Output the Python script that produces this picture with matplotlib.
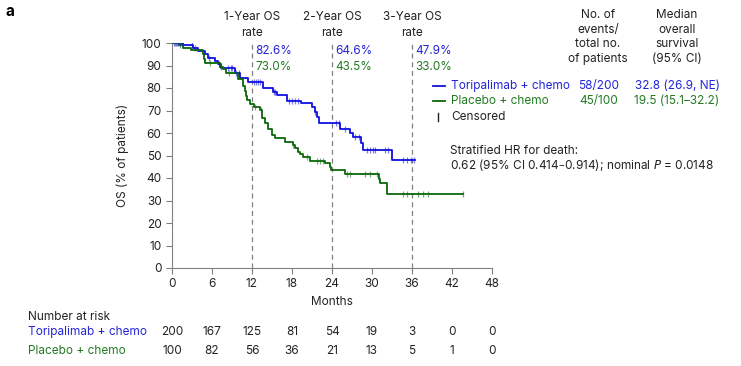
import numpy as np
import matplotlib
matplotlib.use("Agg")
import matplotlib.pyplot as plt
from matplotlib.transforms import blended_transform_factory

plt.rcParams["font.family"] = ["Inter", "DejaVu Sans"]

# KM step points (time in months, OS %)
tori_t = [0, 1.7, 3.2, 3.9, 5.0, 5.4, 6.4, 6.9, 7.4, 9.4, 10.2, 11.4, 13.6, 15.2, 15.7,
          17.3, 19.4, 21.0, 21.4, 21.7, 22.1, 25.2, 26.7, 27.2, 28.4, 28.6, 33.0]
tori_s = [100, 99, 97.6, 96.4, 95, 93.5, 92, 90.5, 89, 86.8, 84.6, 82.6, 80.2, 78.4, 76.9,
          74.2, 73.2, 71.7, 69.5, 67.2, 64.6, 62.0, 59.9, 58.4, 55.4, 52.4, 47.9]
tori_end = 36.4
tori_cens = [0.3, 0.6, 0.9, 1.2, 1.5, 3.0, 3.5, 5.6, 7.0, 8.4, 8.8, 9.0, 9.6, 10.0, 12.3,
             12.6, 12.9, 13.2, 15.3, 15.5, 17.6, 18.0, 18.4, 18.9, 21.5, 24.6, 25.0, 26.0,
             27.5, 28.0, 29.3, 29.7, 30.1, 30.5, 32.0, 32.4, 34.6, 35.2, 35.8, 36.3]

plac_t = [0, 1.0, 1.7, 2.9, 4.6, 4.8, 5.0, 7.2, 7.7, 8.1, 9.9, 10.7, 10.9, 11.1, 11.3, 11.7,
          12.3, 13.2, 13.5, 14.0, 14.4, 15.0, 15.5, 17.0, 18.2, 18.5, 18.9, 19.2, 19.7, 20.7,
          23.0, 23.7, 23.9, 26.0, 31.0, 31.2, 32.3]
plac_s = [100, 99, 98, 97, 95, 92.7, 91, 89.5, 88.3, 86.5, 84, 81, 78.7, 76.4, 74.5, 73,
          71.7, 70.2, 66.5, 64.3, 62, 59.1, 57.6, 56.1, 54.7, 53.2, 51.7, 50.7, 49.5, 47.7,
          46.5, 44.7, 43.5, 41.8, 39.5, 37.6, 33.0]
plac_end = 43.6
plac_cens = [0.4, 0.7, 1.2, 5.7, 7.3, 8.6, 12.5, 13.3, 18.2, 20.2, 21.8, 22.2, 22.6, 26.2,
             26.7, 29.0, 29.7, 30.7, 31.1, 34.7, 35.2, 36.9, 37.7, 38.4, 43.6]

landmarks = [12, 24, 36]
tori_rates = ["82.6%", "64.6%", "47.9%"]
plac_rates = ["73.0%", "43.5%", "33.0%"]
risk_times = [0, 6, 12, 18, 24, 30, 36, 42, 48]
tori_risk = [200, 167, 125, 81, 54, 19, 3, 0, 0]
plac_risk = [100, 82, 56, 36, 21, 13, 5, 1, 0]

BLUE = "#1010e0"
BLUE_TXT = "#2424d8"
GREEN = "#0b680b"
GREEN_TXT = "#237a23"
GRAY = "#808080"
TXT = "#222222"
FS = 8.5

W, H = 741, 366
fig = plt.figure(figsize=(W / 100, H / 100), dpi=100)
ax = fig.add_axes([172 / W, 1 - 268 / H, 320 / W, 225 / H])


def ft(x, y, s, **kw):
    kw.setdefault("fontsize", FS)
    kw.setdefault("color", TXT)
    kw.setdefault("va", "center")
    fig.text(x / W, 1 - y / H, s, **kw)


def km(ax, t, s, end, cens, color):
    tt = list(t) + [end]
    ss = list(s) + [s[-1]]
    ax.step(tt, ss, where="post", color=color, lw=1.3, zorder=3)
    # censor ticks sit on the curve
    idx = np.searchsorted(t, cens, side="right") - 1
    cy = np.array(s)[idx]
    ax.plot(cens, cy, ls="none", marker="|", ms=5, mew=0.9, color=color, alpha=0.55, zorder=4)


km(ax, tori_t, tori_s, tori_end, tori_cens, BLUE)
km(ax, plac_t, plac_s, plac_end, plac_cens, GREEN)

for m in landmarks:
    ax.axvline(m, ymin=0, ymax=1.01, color=GRAY, ls=(0, (4, 3)), lw=0.9, zorder=2, clip_on=False)

ax.set_xlim(0, 48)
ax.set_ylim(0, 100)
ax.set_xticks(risk_times)
ax.set_yticks(range(0, 101, 10))
for sp in ["top", "right"]:
    ax.spines[sp].set_visible(False)
for sp in ["left", "bottom"]:
    ax.spines[sp].set_color(GRAY)
    ax.spines[sp].set_linewidth(0.8)
ax.tick_params(colors=GRAY, labelcolor=TXT, labelsize=FS, length=4, width=0.8)
ax.set_xlabel("Months", fontsize=FS, color=TXT, labelpad=4)
ax.set_ylabel("OS (% of patients)", fontsize=FS, color=TXT, labelpad=9)

# landmark annotations
tr = blended_transform_factory(ax.transData, fig.transFigure)
for m, a, b, n in zip(landmarks, tori_rates, plac_rates, ["1", "2", "3"]):
    ax.text(m, 1 - 25 / H, f"{n}-Year OS\nrate", transform=tr, ha="center", va="center",
            fontsize=FS, color=TXT, linespacing=1.35)
    ax.text(m + 0.45, 1 - 51 / H, a, transform=tr, ha="left", va="center", fontsize=FS, color=BLUE_TXT)
    ax.text(m + 0.45, 1 - 67 / H, b, transform=tr, ha="left", va="center", fontsize=FS, color=GREEN_TXT)

ft(5, 12, "a", fontsize=11, fontweight="bold", color="black")

# table headers
ft(598, 37, "No. of\nevents/\ntotal no.\nof patients", ha="center", linespacing=1.3)
ft(677, 37, "Median\noverall\nsurvival\n(95% CI)", ha="center", linespacing=1.3)

# legend rows
fig.add_artist(plt.Line2D([433 / W, 445 / W], [1 - 86 / H] * 2, color=BLUE, lw=1.3))
fig.add_artist(plt.Line2D([433 / W, 445 / W], [1 - 101 / H] * 2, color=GREEN, lw=1.3))
fig.add_artist(plt.Line2D([438 / W, 438 / W], [1 - 113 / H, 1 - 121 / H], color=TXT, lw=1.0))
ft(451, 86, "Toripalimab + chemo", color=BLUE_TXT)
ft(451, 101, "Placebo + chemo", color=GREEN_TXT)
ft(451, 117, "Censored")
ft(599, 86, "58/200", ha="center", color=BLUE_TXT)
ft(599, 101, "45/100", ha="center", color=GREEN_TXT)
ft(677, 86, "32.8 (26.9, NE)", ha="center", color=BLUE_TXT)
ft(677, 101, "19.5 (15.1\u201332.2)", ha="center", color=GREEN_TXT)

ft(450, 151, "Stratified HR for death:")
ft(450, 165, "0.62 (95% CI 0.414\u20130.914); nominal $\\it{P}$ = 0.0148")

# number at risk
ft(28, 317, "Number at risk")
ft(28, 332, "Toripalimab + chemo", color=BLUE_TXT)
ft(28, 351, "Placebo + chemo", color=GREEN_TXT)
for t, a, b in zip(risk_times, tori_risk, plac_risk):
    ax.text(t, 1 - 332 / H, str(a), transform=tr, ha="center", va="center", fontsize=FS, color=TXT)
    ax.text(t, 1 - 351 / H, str(b), transform=tr, ha="center", va="center", fontsize=FS, color=TXT)

fig.savefig("out.png", dpi=100)
